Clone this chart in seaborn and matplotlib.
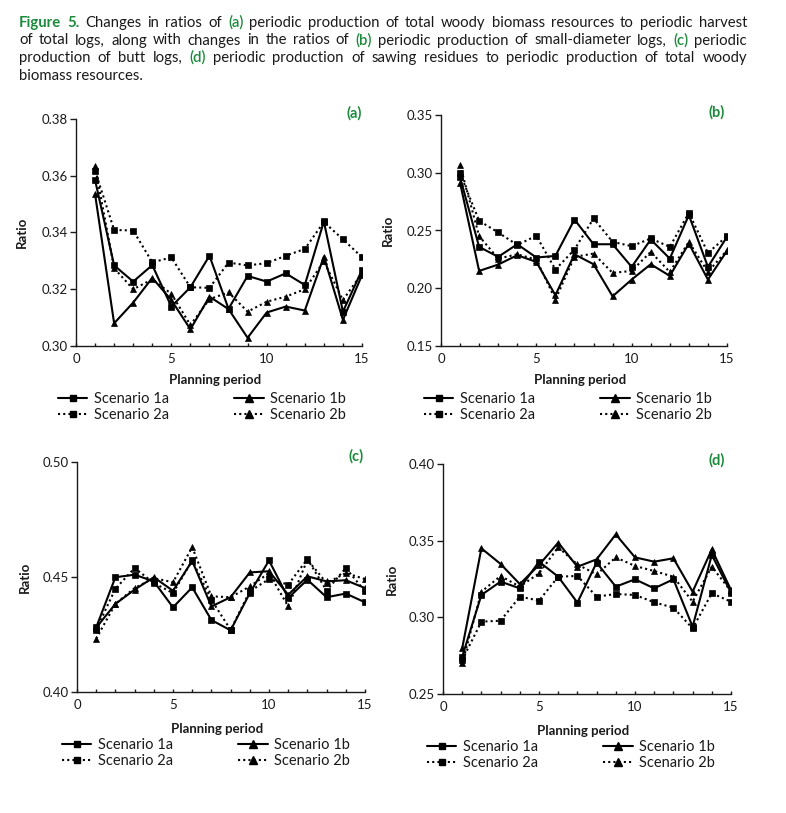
import matplotlib
matplotlib.use("Agg")
import matplotlib.pyplot as plt
import seaborn as sns
import pandas as pd
from matplotlib.lines import Line2D
from matplotlib.ticker import MultipleLocator, FormatStrFormatter

# ---------------- data ----------------
periods = list(range(1, 16))
scenarios = ["Scenario 1a", "Scenario 1b", "Scenario 2a", "Scenario 2b"]

a_1a = [0.3585, 0.3284, 0.3227, 0.3285, 0.3139, 0.3207, 0.3318, 0.3131, 0.3247, 0.3227, 0.3256, 0.3215, 0.3439, 0.3121, 0.3268]
a_1b = [0.3535, 0.3080, 0.3153, 0.3240, 0.3162, 0.3059, 0.3174, 0.3130, 0.3029, 0.3118, 0.3139, 0.3125, 0.3315, 0.3092, 0.3250]
a_2a = [0.3618, 0.3409, 0.3407, 0.3295, 0.3312, 0.3207, 0.3205, 0.3294, 0.3284, 0.3292, 0.3318, 0.3342, 0.3437, 0.3376, 0.3313]
a_2b = [0.3633, 0.3274, 0.3200, 0.3235, 0.3184, 0.3074, 0.3165, 0.3189, 0.3121, 0.3156, 0.3174, 0.3200, 0.3298, 0.3162, 0.3256]

b_1a = [0.2960, 0.2358, 0.2272, 0.2381, 0.2266, 0.2280, 0.2595, 0.2381, 0.2381, 0.2185, 0.2422, 0.2257, 0.2633, 0.2185, 0.2445]
b_1b = [0.2913, 0.2150, 0.2205, 0.2286, 0.2228, 0.1939, 0.2294, 0.2208, 0.1930, 0.2075, 0.2208, 0.2107, 0.2387, 0.2075, 0.2324]
b_2a = [0.2994, 0.2584, 0.2483, 0.2375, 0.2454, 0.2162, 0.2335, 0.2604, 0.2402, 0.2364, 0.2431, 0.2358, 0.2653, 0.2306, 0.2451]
b_2b = [0.3066, 0.2451, 0.2257, 0.2294, 0.2248, 0.1902, 0.2272, 0.2300, 0.2133, 0.2150, 0.2315, 0.2141, 0.2402, 0.2141, 0.2329]

c_1a = [0.4281, 0.4499, 0.4510, 0.4481, 0.4368, 0.4455, 0.4313, 0.4268, 0.4430, 0.4572, 0.4409, 0.4488, 0.4412, 0.4428, 0.4390]
c_1b = [0.4280, 0.4383, 0.4445, 0.4499, 0.4440, 0.4570, 0.4372, 0.4412, 0.4520, 0.4525, 0.4423, 0.4503, 0.4481, 0.4486, 0.4452]
c_2a = [0.4271, 0.4449, 0.4539, 0.4474, 0.4430, 0.4572, 0.4401, 0.4270, 0.4438, 0.4491, 0.4467, 0.4578, 0.4441, 0.4539, 0.4438]
c_2b = [0.4232, 0.4383, 0.4452, 0.4495, 0.4477, 0.4630, 0.4416, 0.4412, 0.4459, 0.4517, 0.4372, 0.4575, 0.4474, 0.4517, 0.4491]

d_1a = [0.2743, 0.3146, 0.3233, 0.3189, 0.3363, 0.3265, 0.3096, 0.3357, 0.3200, 0.3248, 0.3189, 0.3248, 0.2939, 0.3407, 0.3161]
d_1b = [0.2798, 0.3450, 0.3348, 0.3217, 0.3341, 0.3487, 0.3330, 0.3378, 0.3541, 0.3391, 0.3363, 0.3385, 0.3167, 0.3443, 0.3178]
d_2a = [0.2722, 0.2972, 0.2978, 0.3135, 0.3109, 0.3265, 0.3270, 0.3135, 0.3152, 0.3146, 0.3098, 0.3063, 0.2928, 0.3157, 0.3102]
d_2b = [0.2700, 0.3167, 0.3270, 0.3200, 0.3287, 0.3457, 0.3345, 0.3280, 0.3391, 0.3335, 0.3302, 0.3265, 0.3102, 0.3330, 0.3170]

panel_labels = ["(a)", "(b)", "(c)", "(d)"]
x_label = "Planning period"
y_label = "Ratio"
caption_lines = [
    "Figure 5. Changes in ratios of (a) periodic production of total woody biomass resources to periodic harvest",
    "of total logs, along with changes in the ratios of (b) periodic production of small-diameter logs, (c) periodic",
    "production of butt logs, (d) periodic production of sawing residues to periodic production of total woody",
    "biomass resources.",
]

# ---------------- style ----------------
sns.set_style("ticks")
plt.rcParams["font.family"] = ["Lato", "DejaVu Sans"]
GREEN = "#1b8a3c"
INK = "#1a1a1a"

W, H = 786, 813
fig = plt.figure(figsize=(W / 100, H / 100), dpi=100)
fig.patch.set_facecolor("white")


def rect(l, t, r, b):
    return [l / W, 1 - b / H, (r - l) / W, (b - t) / H]


markers = {"Scenario 1a": "s", "Scenario 1b": "^", "Scenario 2a": "s", "Scenario 2b": "^"}
dashes = {"Scenario 1a": "", "Scenario 1b": "", "Scenario 2a": (1, 1.5), "Scenario 2b": (1, 1.5)}
palette = {s: "black" for s in scenarios}

panels = [
    dict(rect=(76, 119, 362, 346), ylim=(0.30, 0.38), step=0.02, series=(a_1a, a_1b, a_2a, a_2b),
         lab=(354, 113), ratio_x=22, pp_y=380, leg=(58, 392)),
    dict(rect=(441, 115, 727, 346), ylim=(0.15, 0.35), step=0.05, series=(b_1a, b_1b, b_2a, b_2b),
         lab=(717, 112), ratio_x=388, pp_y=380, leg=(424, 392)),
    dict(rect=(77, 462, 365, 692), ylim=(0.40, 0.50), step=0.05, series=(c_1a, c_1b, c_2a, c_2b),
         lab=(356, 456), ratio_x=25, pp_y=729, leg=(62, 738)),
    dict(rect=(443, 464, 731, 694), ylim=(0.25, 0.40), step=0.05, series=(d_1a, d_1b, d_2a, d_2b),
         lab=(717, 460), ratio_x=392, pp_y=731, leg=(427, 740)),
]

for i, p in enumerate(panels):
    ax = fig.add_axes(rect(*p["rect"]))
    rows = []
    for name, vals in zip(scenarios, p["series"]):
        for x, v in zip(periods, vals):
            rows.append({"period": x, "ratio": v, "scenario": name})
    df = pd.DataFrame(rows)
    sns.lineplot(data=df, x="period", y="ratio", hue="scenario", style="scenario",
                 hue_order=scenarios, style_order=scenarios, palette=palette,
                 markers=markers, dashes=dashes, ax=ax, legend=False,
                 linewidth=1.5, markersize=5, markeredgecolor="black",
                 markeredgewidth=0.5)
    ax.set_xlim(0, 15)
    ax.set_ylim(*p["ylim"])
    ax.xaxis.set_major_locator(MultipleLocator(5))
    ax.xaxis.set_minor_locator(MultipleLocator(1))
    ax.yaxis.set_major_locator(MultipleLocator(p["step"]))
    ax.yaxis.set_major_formatter(FormatStrFormatter("%.2f"))
    ax.set_xlabel("")
    ax.set_ylabel("")
    for side in ("top", "right"):
        ax.spines[side].set_visible(False)
    for side in ("left", "bottom"):
        ax.spines[side].set_color(INK)
        ax.spines[side].set_linewidth(1.0)
    ax.tick_params(axis="x", which="both", direction="in", length=2.5, width=1.0,
                   color=INK, labelsize=9.5, pad=5, labelcolor=INK)
    ax.tick_params(axis="y", which="major", direction="out", length=4, width=1.0,
                   color=INK, labelsize=9.5, pad=2, labelcolor=INK)
    ax.set_facecolor("none")

    l, t, r, b = p["rect"]
    fig.text(p["lab"][0] / W, 1 - p["lab"][1] / H, panel_labels[i], color=GREEN,
             fontsize=10.5, fontweight="bold", ha="center", va="center")
    fig.text(p["ratio_x"] / W, 1 - ((t + b) / 2) / H, y_label, rotation=90,
             fontsize=9.5, fontweight="bold", ha="center", va="center", color=INK)
    fig.text(((l + r) / 2 - 4) / W, 1 - p["pp_y"] / H, x_label,
             fontsize=9.5, fontweight="bold", ha="center", va="center", color=INK)

    handles = [
        Line2D([], [], color="black", lw=1.5, marker="s", markersize=5),
        Line2D([], [], color="black", lw=1.5, ls=(0, (1, 1.5)), marker="s", markersize=5),
        Line2D([], [], color="black", lw=1.5, marker="^", markersize=5.5),
        Line2D([], [], color="black", lw=1.5, ls=(0, (1, 1.5)), marker="^", markersize=5.5),
    ]
    labels = ["Scenario 1a", "Scenario 2a", "Scenario 1b", "Scenario 2b"]
    fig.legend(handles, labels, loc="upper left",
               bbox_to_anchor=(p["leg"][0] / W, 1 - p["leg"][1] / H),
               ncol=2, frameon=False, fontsize=10.5, borderpad=0, borderaxespad=0,
               handlelength=2.0, handletextpad=0.45, columnspacing=4.5,
               labelspacing=0.15, labelcolor=INK)

# ---------------- caption (justified) ----------------
renderer = fig.canvas.get_renderer()
cap_left, cap_right = 19, 747
baselines = [27, 44.5, 62, 79.5]
CAP_FS = 10.7


def word_style(w):
    if w in ("Figure", "5."):
        return GREEN, "bold"
    if w.rstrip(",") in ("(a)", "(b)", "(c)", "(d)"):
        return GREEN, "semibold"
    return INK, "normal"


space_w = None
for li, line in enumerate(caption_lines):
    words = line.split(" ")
    texts = []
    widths = []
    for w in words:
        col, wt = word_style(w)
        t = fig.text(0, 1 - baselines[li] / H, w, fontsize=CAP_FS, color=col,
                     fontweight=wt, va="baseline", ha="left")
        bb = t.get_window_extent(renderer)
        texts.append(t)
        widths.append(bb.width)
    if space_w is None:
        t1 = fig.text(0, 0, "a a", fontsize=CAP_FS)
        t2 = fig.text(0, 0, "aa", fontsize=CAP_FS)
        space_w = t1.get_window_extent(renderer).width - t2.get_window_extent(renderer).width
        t1.remove()
        t2.remove()
    last = li == len(caption_lines) - 1
    if last or len(words) < 2:
        gap = space_w
    else:
        gap = (cap_right - cap_left - sum(widths)) / (len(words) - 1)
    x = cap_left
    for t, wdt in zip(texts, widths):
        t.set_x(x / W)
        x += wdt + gap

fig.savefig("out.png", dpi=100, facecolor="white")
